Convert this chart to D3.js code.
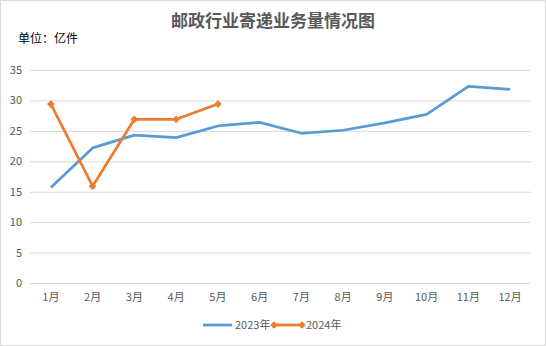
<!DOCTYPE html>
<html><head><meta charset="utf-8">
<script src="https://cdn.jsdelivr.net/npm/d3@7"></script>
<style>body{margin:0;background:#fff}svg{display:block}</style>
</head><body><svg id="c" width="546" height="346"></svg>
<script>
const months = ["1月","2月","3月","4月","5月","6月","7月","8月","9月","10月","11月","12月"];
const values2023 = [15.7,22.2,24.3,23.9,25.8,26.4,24.6,25.1,26.3,27.7,32.3,31.8];
const values2024 = [29.4,15.9,26.9,26.9,29.4];
const yTicks = [0,5,10,15,20,25,30,35];
const seriesNames = ["2023年","2024年"];

const svg = d3.select("#c");
const W=546,H=346;
svg.append("rect").attr("x",0.5).attr("y",0.5).attr("width",W-1).attr("height",H-1).attr("fill","#fff").attr("stroke","#d9d9d9");
const font = "'Noto Sans CJK SC','Microsoft YaHei',sans-serif";
svg.append("text").attr("x",273).attr("y",27).attr("text-anchor","middle")
  .attr("font-family","'Noto Sans CJK SC',serif").attr("font-weight","bold").attr("font-size",17)
  .attr("fill","#595959").text("邮政行业寄递业务量情况图");
svg.append("text").attr("x",18).attr("y",43).attr("font-family",font).attr("font-size",12)
  .attr("fill","#000").text("单位：亿件");

const x = d3.scaleBand().domain(months).range([30,531]);
const y = d3.scaleLinear().domain([0,35]).range([283,70]);

const gy = svg.append("g").attr("transform","translate(30,0)")
  .call(d3.axisLeft(y).tickValues(yTicks).tickSize(-501).tickPadding(8));
gy.select(".domain").remove();
gy.selectAll(".tick line").attr("stroke","#d9d9d9");
gy.selectAll(".tick text").attr("font-family",font).attr("font-size",11).attr("fill","#595959");

const gx = svg.append("g").attr("transform","translate(0,283)")
  .call(d3.axisBottom(x).tickSize(0).tickPadding(10));
gx.select(".domain").remove();
gx.selectAll(".tick text").attr("font-family",font).attr("font-size",11).attr("fill","#595959");

const cx = d => x(d)+x.bandwidth()/2;
const line = d3.line().x((d,i)=>cx(months[i])).y(d=>y(d));
svg.append("path").datum(values2023).attr("d",line).attr("fill","none")
  .attr("stroke","#5b9bd5").attr("stroke-width",2.75).attr("stroke-linejoin","round");
svg.append("path").datum(values2024).attr("d",line).attr("fill","none")
  .attr("stroke","#ed7d31").attr("stroke-width",2.75).attr("stroke-linejoin","round");
const diamond = d3.symbol().type(d3.symbolDiamond2).size(40);
svg.selectAll(".m").data(values2024).enter().append("path")
  .attr("transform",(d,i)=>`translate(${cx(months[i])},${y(d)}) rotate(45)`)
  .attr("d",d3.symbol().type(d3.symbolSquare).size(30)).attr("fill","#ed7d31");

// legend
const lg = svg.append("g");
lg.append("line").attr("x1",203).attr("x2",232).attr("y1",325).attr("y2",325).attr("stroke","#5b9bd5").attr("stroke-width",2.75);
lg.append("text").attr("x",235).attr("y",329).attr("font-family",font).attr("font-size",11).attr("fill","#595959").text(seriesNames[0]);
lg.append("line").attr("x1",274).attr("x2",302).attr("y1",325).attr("y2",325).attr("stroke","#ed7d31").attr("stroke-width",2.75);
[274,302].forEach(px=>lg.append("path").attr("transform",`translate(${px},325) rotate(45)`).attr("d",d3.symbol().type(d3.symbolSquare).size(30)).attr("fill","#ed7d31"));
lg.append("text").attr("x",306).attr("y",329).attr("font-family",font).attr("font-size",11).attr("fill","#595959").text(seriesNames[1]);
</script></body></html>
